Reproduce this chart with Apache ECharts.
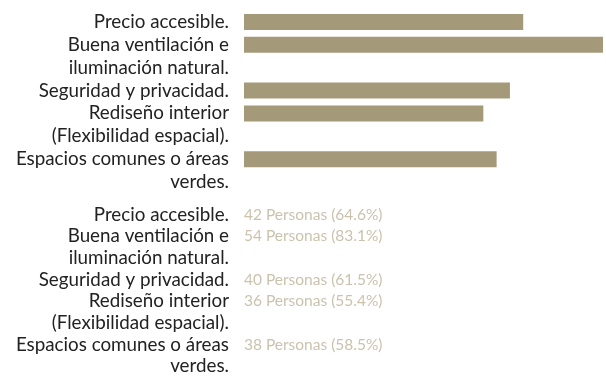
<!DOCTYPE html>
<html>
<head>
<meta charset="utf-8">
<script src="https://cdn.jsdelivr.net/npm/echarts@6/dist/echarts.min.js"></script>
<style>
  html, body { margin: 0; padding: 0; background: #ffffff; }
  #chart { width: 606px; height: 377px; }
</style>
</head>
<body>
<div id="chart"></div>
<script>
// Survey answers: reasons people value in a dwelling
const categories = [
  'Precio accesible.',
  'Buena ventilación e\niluminación natural.',
  'Seguridad y privacidad.',
  'Rediseño interior\n(Flexibilidad espacial).',
  'Espacios comunes o áreas\nverdes.'
];
const personas = [42, 54, 40, 36, 38];
const porcentajes = [64.6, 83.1, 61.5, 55.4, 58.5];

// Each label line gets its own row on the category axis; a value sits on the first line of its label.
const rowLabels = [];
const rowValues = [];
const rowPoints = [];
categories.forEach((name, i) => {
  name.split('\n').forEach((line, j) => {
    rowLabels.push(line);
    rowValues.push(j === 0 ? personas[i] : '-');
    if (j === 0) rowPoints.push({ value: [0, rowLabels.length - 1], idx: i });
  });
});

const FONT = 'Lato';
const BAR = '#a49a7a';
const SOFT = '#bdb399';
const INK = '#222222';

const chart = echarts.init(document.getElementById('chart'), null, { renderer: 'canvas' });

const yAxisCommon = {
  type: 'category',
  data: rowLabels,
  inverse: true,
  axisLine: { show: false },
  axisTick: { show: false },
  splitLine: { show: false },
  axisLabel: {
    color: INK,
    fontFamily: FONT,
    fontSize: 18.8,
    margin: 15,
    interval: 0
  }
};

chart.setOption({
  animation: false,
  grid: [
    { left: 244, right: 3, top: 10.5, height: 183 },
    { left: 244, right: 3, top: 204, height: 176 }
  ],
  xAxis: [
    { gridIndex: 0, type: 'value', min: 0, max: 54, show: false },
    { gridIndex: 1, type: 'value', min: 0, max: 54, show: false }
  ],
  yAxis: [
    Object.assign({ gridIndex: 0 }, yAxisCommon),
    Object.assign({ gridIndex: 1 }, yAxisCommon)
  ],
  series: [
    {
      type: 'bar',
      xAxisIndex: 0,
      yAxisIndex: 0,
      data: rowValues,
      barWidth: 16,
      itemStyle: { color: BAR },
      silent: true
    },
    {
      type: 'scatter',
      xAxisIndex: 1,
      yAxisIndex: 1,
      data: rowPoints,
      symbolSize: 0,
      silent: true,
      label: {
        show: true,
        position: 'right',
        distance: 0,
        color: SOFT,
        fontFamily: FONT,
        fontSize: 15.5,
        formatter: p => personas[p.data.idx] + ' Personas (' + porcentajes[p.data.idx].toFixed(1) + '%)'
      }
    }
  ]
});
</script>
</body>
</html>
